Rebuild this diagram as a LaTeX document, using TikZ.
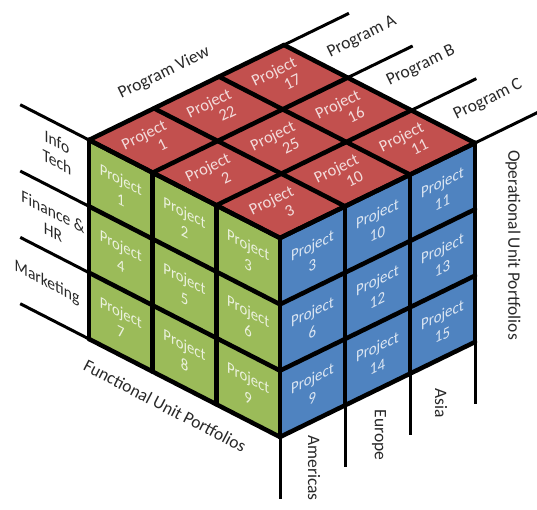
\documentclass[tikz,border=0pt]{standalone}
\usepackage{fontspec}
\setmainfont{Carlito}
\usetikzlibrary{calc}
\definecolor{cgreen}{RGB}{155,187,89}
\definecolor{cred}{RGB}{194,80,78}
\definecolor{cblue}{RGB}{79,131,192}
\definecolor{labc}{RGB}{40,40,40}
\begin{document}
\begin{tikzpicture}[
  cellfont/.style={font=\fontsize{16.5}{20}\selectfont, text=white, text opacity=0.8, align=center, inner sep=0pt},
  labfont/.style={font=\fontsize{17.5}{20}\selectfont, text=labc, align=center, inner sep=0pt},
  gridline/.style={line width=4.5pt, line cap=round, line join=round},
  extline/.style={line width=3pt},
  gface/.style={cm={0.8897,-0.4565,0,1,(0,0)}},
  bface/.style={cm={0.899,0.438,0,1,(0,0)}},
]
\useasboundingbox (0,0) rectangle (537pt,510pt);
\begin{scope}[shift={(280pt,73pt)}, x={(65pt,31.67pt)}, y={(-63.67pt,32.67pt)}, z={(0pt,66.33pt)}]
  % faces
  \fill[cgreen] (0,0,0) -- (0,3,0) -- (0,3,3) -- (0,0,3) -- cycle;
  \fill[cblue] (0,0,0) -- (3,0,0) -- (3,0,3) -- (0,0,3) -- cycle;
  \fill[cred] (0,0,3) -- (3,0,3) -- (3,3,3) -- (0,3,3) -- cycle;
  % extension lines
  \foreach \k in {0,...,3} {
    \draw[extline] (0,3,\k) -- (0,4.08,\k);
    \draw[extline] (3,\k,3) -- (4,\k,3);
    \draw[extline] (\k,0,0) -- (\k,0,-0.93);
  }
  % grid
  \foreach \k in {0,...,3} {
    \draw[gridline] (0,\k,0) -- (0,\k,3);
    \draw[gridline] (0,0,\k) -- (0,3,\k);
    \draw[gridline] (\k,0,0) -- (\k,0,3);
    \draw[gridline] (0,0,\k) -- (3,0,\k);
    \draw[gridline] (\k,0,3) -- (\k,3,3);
    \draw[gridline] (0,\k,3) -- (3,\k,3);
  }
  % green face texts
  \foreach \r in {1,2,3} {
    \foreach \c in {1,2,3} {
      \pgfmathtruncatemacro{\n}{3*(\r-1)+\c}
      \node[cellfont, gface, name=g\n] at (0,3.5-\c,3.5-\r) {Project\\\n};
    }
  }
  % blue face texts
  \foreach \xx/\zz/\n in {0.5/2.5/3, 0.5/1.5/6, 0.5/0.5/9, 1.5/2.5/10, 1.5/1.5/12, 1.5/0.5/14, 2.5/2.5/11, 2.5/1.5/13, 2.5/0.5/15} {
    \node[cellfont, bface, name=b\n] at (\xx,0,\zz) {Project\\\n};
  }
  % red face texts
  \foreach \xx/\yy/\n in {0.5/0.5/3, 0.5/1.5/2, 0.5/2.5/1, 1.5/0.5/10, 1.5/1.5/25, 1.5/2.5/22, 2.5/0.5/11, 2.5/1.5/16, 2.5/2.5/17} {
    \node[cellfont, rotate=26, name=rp\n] at (\xx,\yy+0.14,3) {Project};
    \node[cellfont, rotate=26, name=rn\n] at (\xx,\yy-0.14,3) {\n};
  }
\end{scope}
% outer labels
\node[labfont, gface] (info) at (57pt,358pt) {Info\\Tech};
\node[labfont, gface] (fin) at (53pt,288pt) {Finance \&\\HR};
\node[labfont, gface] (mkt) at (47pt,227pt) {Marketing};
\node[labfont, rotate=-27.5] (func) at (165pt,104pt) {Functional Unit Portfolios};
\node[labfont, rotate=26] (pview) at (164pt,437pt) {Program View};
\node[labfont, rotate=26] (pa) at (362pt,473pt) {Program A};
\node[labfont, rotate=26] (pb) at (421pt,444pt) {Program B};
\node[labfont, rotate=26] (pc) at (488pt,410pt) {Program C};
\node[labfont, rotate=-90] (oper) at (513pt,265pt) {Operational Unit Portfolios};
\node[labfont, rotate=-90] (amer) at (314pt,42pt) {Americas};
\node[labfont, rotate=-90] (eur) at (379pt,75pt) {Europe};
\node[labfont, rotate=-90] (asia) at (441pt,107pt) {Asia};
\end{tikzpicture}
\end{document}
